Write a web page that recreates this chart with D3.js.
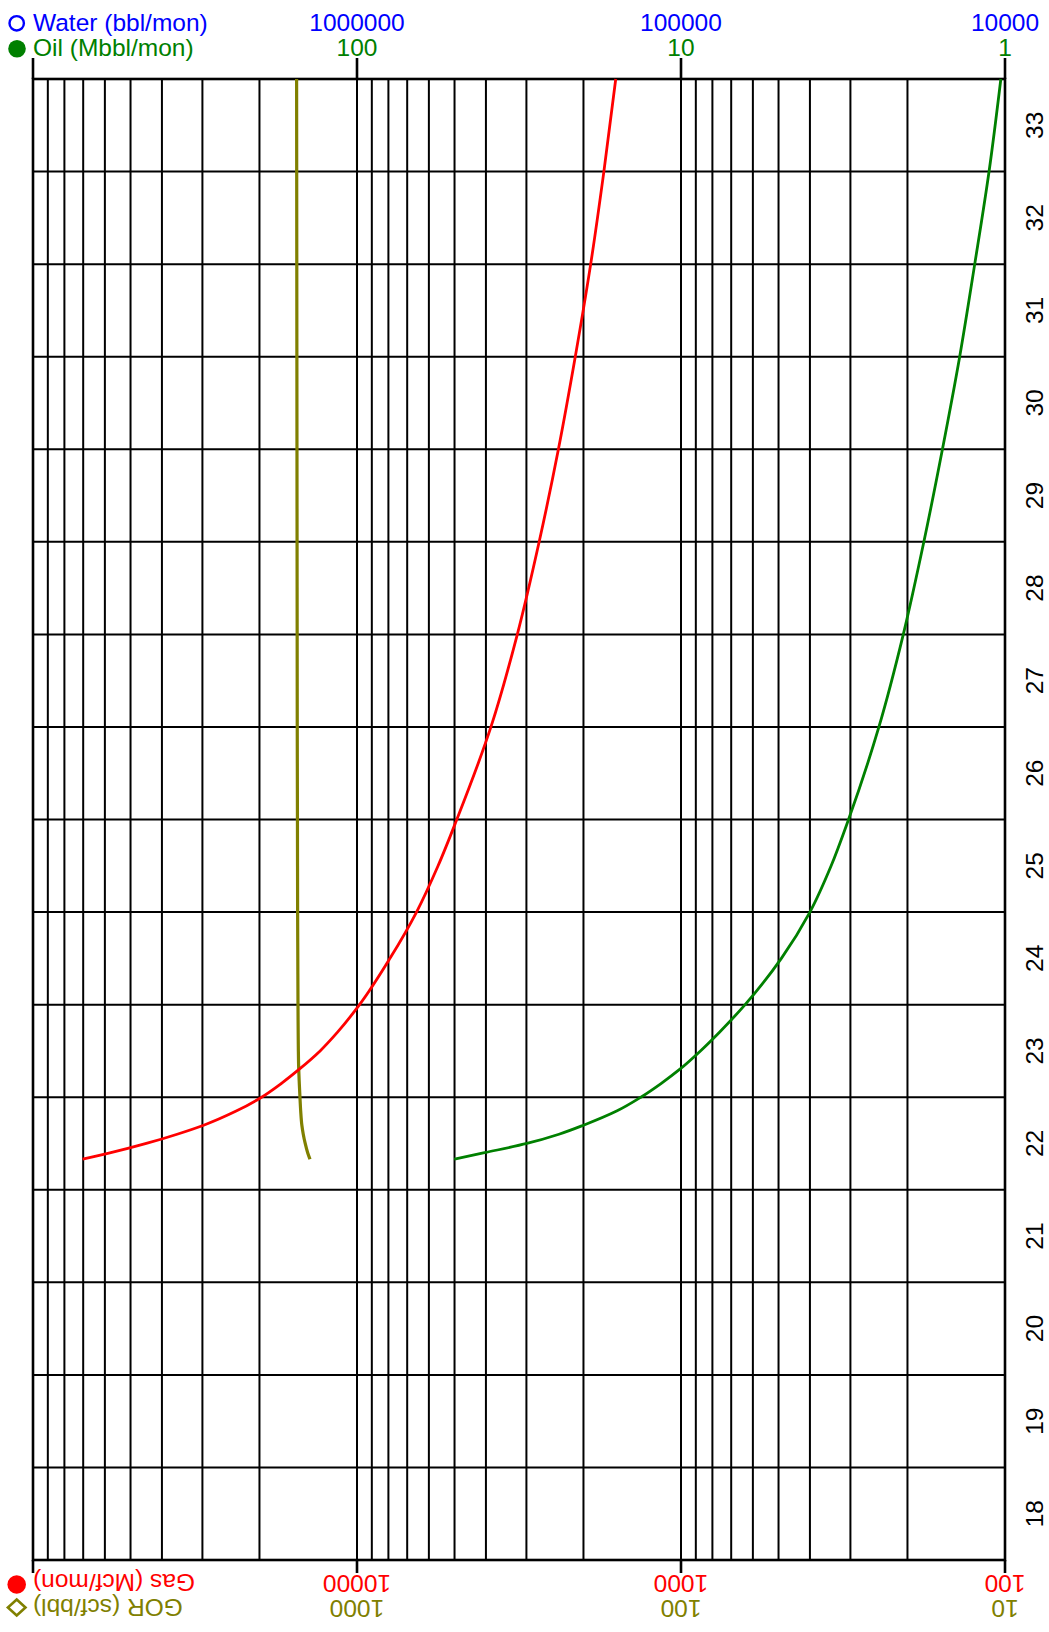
<!DOCTYPE html>
<html>
<head>
<meta charset="utf-8">
<script src="https://cdn.jsdelivr.net/npm/d3@7"></script>
<style>
  html, body { margin: 0; padding: 0; background: #fff; }
  svg text { font-family: "Liberation Sans", Arial, Helvetica, sans-serif; }
</style>
</head>
<body>
<svg id="chart" width="1049" height="1632"></svg>
<script>
// ---- data ----
const times = [21.83, 21.9, 22.0, 22.1, 22.2, 22.35, 22.5, 22.65, 22.8, 23.0, 23.2, 23.5, 24.0, 24.5, 25.0, 25.5, 26.5, 27.5, 28.5, 29.5, 30.5, 31.5, 32.5, 33.5];
const oilValues = [50.1, 40.4, 29.9, 23.8, 19.9, 15.8, 13.3, 11.5, 10.1, 8.71, 7.62, 6.34, 4.90, 4.00, 3.44, 3.04, 2.45, 2.06, 1.78, 1.56, 1.38, 1.24, 1.12, 1.03];
const gasValues = [70300, 57500, 44700, 35900, 29600, 23600, 19700, 17100, 15100, 13000, 11500, 9820, 7910, 6550, 5620, 4920, 3860, 3200, 2740, 2390, 2120, 1900, 1730, 1590];
const gorValues = [1397, 1420, 1445, 1465, 1480, 1492, 1500, 1507, 1513, 1517, 1519, 1521, 1523, 1525, 1526, 1527, 1529, 1530, 1531, 1532, 1533, 1534, 1535, 1536];

const timeTicks = [18, 19, 20, 21, 22, 23, 24, 25, 26, 27, 28, 29, 30, 31, 32, 33];
const waterTickLabels = [1000000, 100000, 10000];
const oilTickLabels = [100, 10, 1];
const gasTickLabels = [10000, 1000, 100];
const gorTickLabels = [1000, 100, 10];
const waterTickMarks = [10000000, 1000000, 100000, 10000];

// ---- layout ----
const L = 33, R = 1005, T = 79, B = 1560;
const FS = 24.5;
const svg = d3.select("#chart");

const yTime = d3.scaleLinear().domain([17.5, 33.5]).range([B, T]);
const xWater = d3.scaleLog().domain([1e7, 1e4]).range([L, R]);
const xOil = d3.scaleLog().domain([1000, 1]).range([L, R]);
const xGas = d3.scaleLog().domain([1e5, 100]).range([L, R]);
const xGor = d3.scaleLog().domain([1e4, 10]).range([L, R]);

// ---- grid ----
const grid = svg.append("g");
const vGrid = [];
for (let d = 1; d < 1000; d *= 10) for (let m = 1; m < 10; m++) { if (d * m > 1) vGrid.push(d * m); }
grid.selectAll("line.v").data(vGrid).join("line")
  .attr("x1", d => xOil(d)).attr("x2", d => xOil(d))
  .attr("y1", T).attr("y2", B)
  .attr("stroke", "#000").attr("stroke-width", 2);
const hGrid = d3.range(18.5, 33.5, 1);
grid.selectAll("line.h").data(hGrid).join("line")
  .attr("x1", L).attr("x2", R)
  .attr("y1", d => yTime(d)).attr("y2", d => yTime(d))
  .attr("stroke", "#000").attr("stroke-width", 2);

// border
svg.append("rect").attr("x", L).attr("y", T).attr("width", R - L).attr("height", B - T)
  .attr("fill", "none").attr("stroke", "#000").attr("stroke-width", 2.6);

// tick marks top & bottom
svg.append("g").selectAll("line").data(waterTickMarks).join("line")
  .attr("x1", d => xWater(d)).attr("x2", d => xWater(d))
  .attr("y1", T).attr("y2", 58)
  .attr("stroke", "#000").attr("stroke-width", 2.6);
svg.append("g").selectAll("line").data(waterTickMarks).join("line")
  .attr("x1", d => xWater(d)).attr("x2", d => xWater(d))
  .attr("y1", B).attr("y2", 1573)
  .attr("stroke", "#000").attr("stroke-width", 2.6);

// ---- curves ----
const rows = times.map((t, i) => ({ t, oil: oilValues[i], gas: gasValues[i], gor: gorValues[i] }));
function drawLine(scale, key, color, w) {
  const line = d3.line().x(d => scale(d[key])).y(d => yTime(d.t)).curve(d3.curveMonotoneY);
  svg.append("path").datum(rows).attr("d", line)
    .attr("fill", "none").attr("stroke", color).attr("stroke-width", w);
}
drawLine(xGor, "gor", "#808000", 3.2);
drawLine(xGas, "gas", "#ff0000", 2.8);
drawLine(xOil, "oil", "#008000", 2.8);

// ---- top labels ----
svg.append("g").selectAll("text").data(waterTickLabels).join("text")
  .attr("x", d => xWater(d)).attr("y", 31).attr("text-anchor", "middle")
  .attr("font-size", FS).attr("fill", "#0000ff").text(d => d);
svg.append("g").selectAll("text").data(oilTickLabels).join("text")
  .attr("x", d => xOil(d)).attr("y", 55.5).attr("text-anchor", "middle")
  .attr("font-size", FS).attr("fill", "#008000").text(d => d);

svg.append("circle").attr("cx", 16.7).attr("cy", 23.3).attr("r", 7.2)
  .attr("fill", "none").attr("stroke", "#0000ff").attr("stroke-width", 2.4);
svg.append("text").attr("x", 33).attr("y", 31).attr("font-size", FS).attr("fill", "#0000ff").text("Water (bbl/mon)");
svg.append("circle").attr("cx", 17).attr("cy", 48.7).attr("r", 8.8).attr("fill", "#008000");
svg.append("text").attr("x", 33).attr("y", 55.5).attr("font-size", FS).attr("fill", "#008000").text("Oil (Mbbl/mon)");

// ---- bottom labels (upside down) ----
svg.append("g").selectAll("text").data(gasTickLabels).join("text")
  .attr("transform", d => `translate(${xGas(d)},1575) rotate(180)`)
  .attr("text-anchor", "middle").attr("font-size", FS).attr("fill", "#ff0000").text(d => d);
svg.append("g").selectAll("text").data(gorTickLabels).join("text")
  .attr("transform", d => `translate(${xGor(d)},1600) rotate(180)`)
  .attr("text-anchor", "middle").attr("font-size", FS).attr("fill", "#808000").text(d => d);

svg.append("circle").attr("cx", 16.7).attr("cy", 1584.5).attr("r", 9.3).attr("fill", "#ff0000");
svg.append("text").attr("transform", "translate(33,1574) rotate(180)").attr("text-anchor", "end")
  .attr("font-size", FS).attr("fill", "#ff0000").text("Gas (Mcf/mon)");
svg.append("path").attr("d", "M16.7,1599.5 L25.5,1607.5 L16.7,1615.5 L7.9,1607.5 Z")
  .attr("fill", "none").attr("stroke", "#808000").attr("stroke-width", 2.6);
svg.append("text").attr("transform", "translate(33,1599) rotate(180)").attr("text-anchor", "end")
  .attr("font-size", FS).attr("fill", "#808000").text("GOR (scf/bbl)");

// ---- right labels (rotated) ----
svg.append("g").selectAll("text").data(timeTicks).join("text")
  .attr("transform", d => `translate(1043,${yTime(d)}) rotate(-90)`)
  .attr("text-anchor", "middle").attr("font-size", FS).attr("fill", "#000").text(d => d);
</script>
</body>
</html>
